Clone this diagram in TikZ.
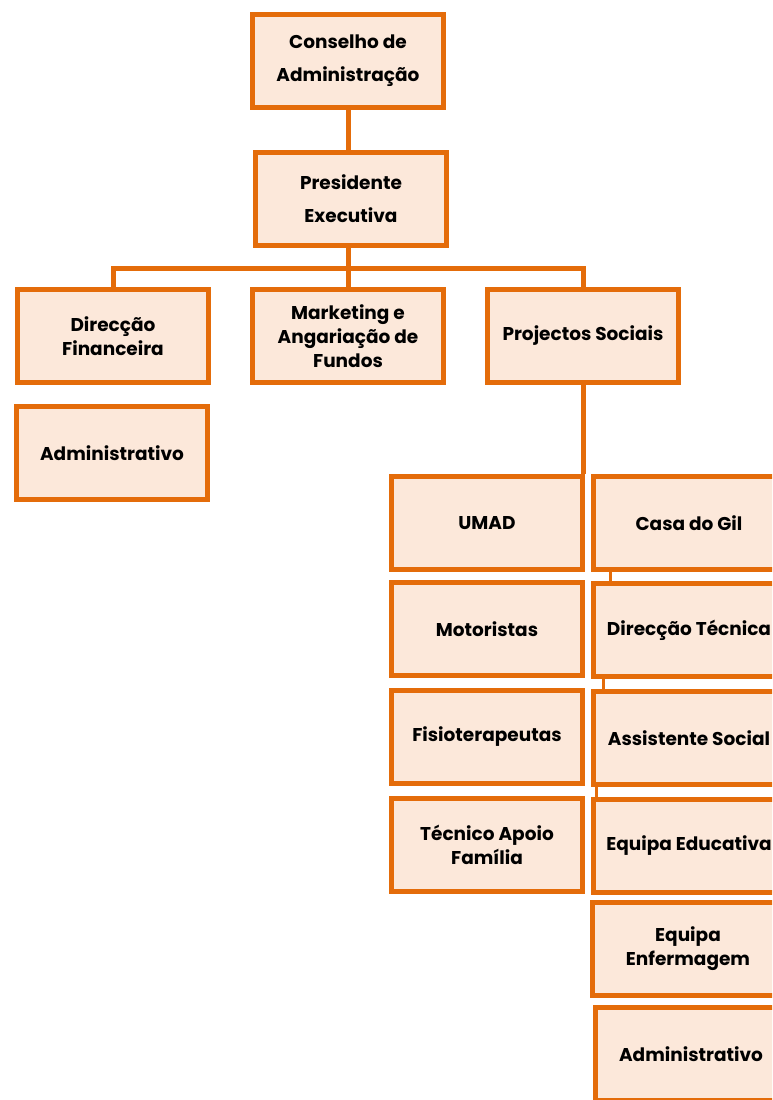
\documentclass[tikz,border=0pt]{standalone}
\usepackage{fontspec}
\setmainfont{Poppins}
\usepackage{xcolor}
\usetikzlibrary{backgrounds}
\definecolor{orgline}{RGB}{228,108,10}
\definecolor{orgfill}{RGB}{252,232,218}

\tikzset{
  cargo/.style={draw=orgline, fill=orgfill, line width=5pt, minimum width=191pt,
    minimum height=93pt, align=center, inner sep=2pt,
    font=\fontsize{18.5}{24}\selectfont\bfseries},
  cargoalto/.style={cargo, font=\fontsize{18.5}{33}\selectfont\bfseries},
  liga/.style={draw=orgline, line width=5pt},
  ligafina/.style={draw=orgline, line width=3pt}
}

\begin{document}
\begin{tikzpicture}[x=1pt,y=-1pt]
\path[use as bounding box, clip] (0,0) rectangle (772,1100);
\node [cargoalto] (cons) at (348,61) {Conselho de\\Administração};
\node [cargoalto] (pres) at (351,199) {Presidente\\Executiva};
\node [cargo] (dfin) at (113,336) {Direcção\\Financeira};
\node [cargo] (mkt) at (348,336) {Marketing e\\Angariação de\\Fundos};
\node [cargo] (proj) at (583,336) {Projectos Sociais};
\node [cargo] (adm) at (112,453) {Administrativo};
\node [cargo] (umad) at (487,523) {UMAD};
\node [cargo] (mot) at (487,629) {Motoristas};
\node [cargo] (fis) at (487,737) {Fisioterapeutas};
\node [cargo] (tec) at (487,845) {Técnico Apoio\\Família};
\node [cargo] (casa) at (689,523) {Casa do Gil};
\node [cargo] (dtec) at (689,630) {Direcção Técnica};
\node [cargo] (asoc) at (689,738) {Assistente Social};
\node [cargo] (eedu) at (689,846) {Equipa Educativa};
\node [cargo] (eenf) at (688,949) {Equipa\\Enfermagem};
\node [cargo] (adm2) at (691,1054) {Administrativo};
\coordinate (bus) at (348,268);
\coordinate (c1) at (610,0);
\coordinate (c2) at (603,0);
\coordinate (c3) at (596,0);
\begin{scope}[on background layer]
\draw [liga] (cons.south) -- (cons.south |- pres.north);
\draw [liga] (bus |- pres.south) -- (bus);
\draw [liga] (dfin.north) |- (bus) -| (proj.north);
\draw [liga] (mkt.north) -- (bus);
\draw [liga] (proj.south) -- (proj.south |- umad.north);
\draw [ligafina] (c1 |- casa.south) -- (c1 |- dtec.north);
\draw [ligafina] (c2 |- dtec.south) -- (c2 |- asoc.north);
\draw [ligafina] (c3 |- asoc.south) -- (c3 |- eedu.north);
\end{scope}
\end{tikzpicture}
\end{document}
